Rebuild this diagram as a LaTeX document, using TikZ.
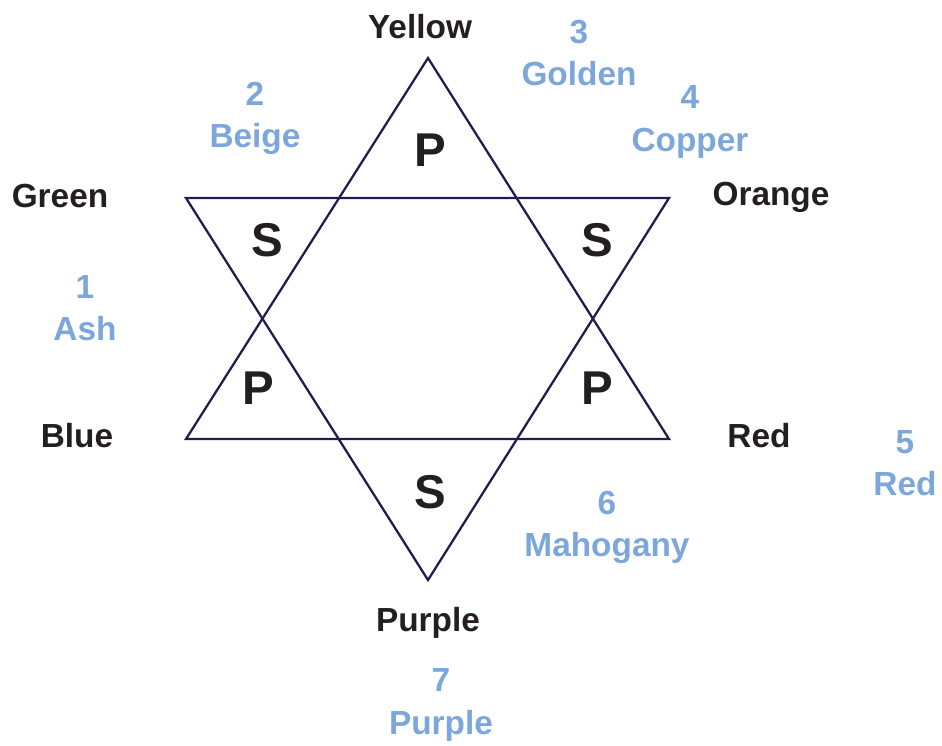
\documentclass[tikz,border=0pt]{standalone}
\usepackage{fontspec}
\setmainfont{Liberation Sans}
\usepackage{xcolor}
\usepackage{tikz}
\usetikzlibrary{positioning}

\definecolor{garis}{HTML}{1F1F4F}
\definecolor{tinta}{HTML}{231F20}
\definecolor{muda}{HTML}{7BA7DA}

\begin{document}
\begin{tikzpicture}[
    x=0.02cm, y=-0.02cm,
    font=\fontsize{19pt}{24pt}\selectfont\bfseries,
    hitam/.style={text=tinta, align=center, inner sep=0pt},
    biru/.style={text=muda, align=center, inner sep=0pt},
    huruf/.style={text=tinta, inner sep=0pt, font=\fontsize{27pt}{30pt}\selectfont\bfseries},
    sisi/.style={draw=garis, line width=1.3pt, line join=miter}
  ]
    \useasboundingbox (0,0) rectangle (942,745);

    % titik sudut bintang
    \coordinate (atas) at (428,58);
    \coordinate (bawah) at (428,580);
    \coordinate (kiriatas) at (186,198);
    \coordinate (kananatas) at (669,198);
    \coordinate (kiribawah) at (186,439);
    \coordinate (kananbawah) at (669,439);

    \draw[sisi] (atas) -- (kananbawah) -- (kiribawah) -- cycle;
    \draw[sisi] (kiriatas) -- (kananatas) -- (bawah) -- cycle;

    % huruf di dalam segitiga
    \node[huruf] (ptop) at (430,150) {P};
    \node[huruf] (skiri) at (267,240) {S};
    \node[huruf] (skanan) at (597,240) {S};
    \node[huruf] (pkiri) at (258,388) {P};
    \node[huruf] (pkanan) at (597,388) {P};
    \node[huruf] (sbawah) at (430,492) {S};

    % nama warna
    \node[hitam] (kuning) at (420,27) {Yellow};
    \node[hitam] (hijau) at (60,196) {Green};
    \node[hitam] (jingga) at (771,197) {Orange};
    \node[hitam] (nila) at (77,436) {Blue};
    \node[hitam] (merah) at (759,436) {Red};
    \node[hitam] (ungu) at (428,623) {Purple};

    % nomor
    \node[biru] (n1) at (85,308) {1\\Ash};
    \node[biru] (n2) at (255,118) {2\\Beige};
    \node[biru] (n3) at (579,53) {3\\Golden};
    \node[biru] (n4) at (690,122) {4\\Copper};
    \node[biru] (n5) at (905,463) {5\\Red};
    \node[biru] (n6) at (607,527) {6\\Mahogany};
    \node[biru] (n7) at (441,705) {7\\Purple};
  \end{tikzpicture}
\end{document}
